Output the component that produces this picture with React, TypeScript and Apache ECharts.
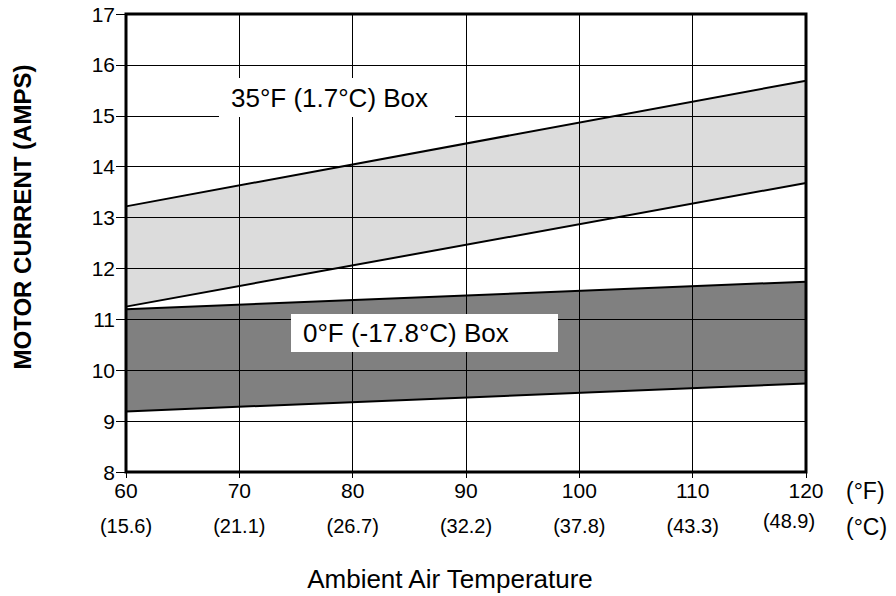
import React, { useEffect, useRef } from "react";
import * as echarts from "echarts";

const FONT = '"Liberation Sans", Arial, Helvetica, sans-serif';

// Ambient temperature (°F) at the ends of each straight line
const tempF = [60, 120];
// 35°F (1.7°C) box band
const box35Upper = [13.22, 15.69];
const box35Lower = [11.25, 13.68];
// 0°F (-17.8°C) box band
const box0Upper = [11.2, 11.74];
const box0Lower = [9.19, 9.74];

// X tick labels
const xTicksF = [60, 70, 80, 90, 100, 110, 120];
const xTicksC = ["(15.6)", "(21.1)", "(26.7)", "(32.2)", "(37.8)", "(43.3)", "(48.9)"];

const bands = [
  { upper: box35Upper, lower: box35Lower, color: "#dcdcdc" },
  { upper: box0Upper, lower: box0Lower, color: "#808080" },
];
const lines = [box35Upper, box35Lower, box0Upper, box0Lower];

export default function App() {
  const ref = useRef<HTMLDivElement>(null);
  useEffect(() => {
    if (!ref.current) return;
    const chart = echarts.init(ref.current, null, { renderer: "svg" });
    const option: any = {
      animation: false,
      backgroundColor: "#fff",
      textStyle: { fontFamily: FONT, color: "#000" },
      grid: {
        left: 126,
        right: 90,
        top: 14,
        bottom: 124,
        show: true,
        z: 2,
        borderColor: "#000",
        borderWidth: 3,
        backgroundColor: "transparent",
      },
      xAxis: {
        type: "value",
        min: 60,
        max: 120,
        interval: 10,
        z: 2,
        axisLine: { show: false },
        axisTick: { show: true, length: 6, lineStyle: { color: "#000", width: 1 } },
        splitLine: { show: true, lineStyle: { color: "#000", width: 1 } },
        axisLabel: {
          margin: 0,
          color: "#000",
          formatter: (v: number) => {
            const i = xTicksF.indexOf(v);
            const c = xTicksC[i] ?? "";
            const style = i === xTicksF.length - 1 ? "cl" : "c";
            return `{f|${v}}\n{${style}|${c}}`;
          },
          rich: {
            f: { fontSize: 21, lineHeight: 36, fontFamily: FONT, color: "#000" },
            c: { fontSize: 20, lineHeight: 36, fontFamily: FONT, color: "#000" },
            cl: {
              fontSize: 20,
              lineHeight: 36,
              fontFamily: FONT,
              color: "#000",
              padding: [0, 34, 10, 0],
            },
          },
        },
      },
      yAxis: {
        type: "value",
        min: 8,
        max: 17,
        interval: 1,
        z: 2,
        axisLine: { show: false },
        axisTick: { show: true, length: 10, lineStyle: { color: "#000", width: 1 } },
        splitLine: { show: true, lineStyle: { color: "#000", width: 1 } },
        axisLabel: { margin: 11, fontSize: 21, color: "#000", fontFamily: FONT },
      },
      series: [
        {
          type: "custom",
          coordinateSystem: "cartesian2d",
          z: 1,
          silent: true,
          data: bands.map((b) => [tempF[0], b.lower[0]]),
          renderItem: (params: any, api: any) => {
            const b = bands[params.dataIndex];
            const pts: number[][] = [];
            for (let k = 0; k < tempF.length; k++) pts.push(api.coord([tempF[k], b.upper[k]]));
            for (let k = tempF.length - 1; k >= 0; k--) pts.push(api.coord([tempF[k], b.lower[k]]));
            return {
              type: "polygon",
              shape: { points: pts },
              style: { fill: b.color, stroke: null },
            };
          },
        },
        ...lines.map((arr) => ({
          type: "line",
          z: 3,
          silent: true,
          symbol: "none",
          showSymbol: false,
          lineStyle: { color: "#000", width: 2 },
          data: tempF.map((t, k) => [t, arr[k]]),
        })),
      ],
      graphic: [
        {
          type: "rect",
          z: 10,
          shape: { x: 219, y: 78, width: 236, height: 39 },
          style: { fill: "#fff" },
        },
        {
          type: "text",
          z: 11,
          x: 231,
          y: 97.5,
          style: {
            text: "35°F (1.7°C) Box",
            font: `26px ${FONT}`,
            fill: "#000",
            textAlign: "left",
            textVerticalAlign: "middle",
          },
        },
        {
          type: "rect",
          z: 10,
          shape: { x: 291, y: 314, width: 267, height: 38 },
          style: { fill: "#fff" },
        },
        {
          type: "text",
          z: 11,
          x: 303,
          y: 333,
          style: {
            text: "0°F (-17.8°C) Box",
            font: `26px ${FONT}`,
            fill: "#000",
            textAlign: "left",
            textVerticalAlign: "middle",
          },
        },
        {
          type: "text",
          z: 11,
          x: 22,
          y: 217,
          rotation: Math.PI / 2,
          style: {
            text: "MOTOR CURRENT (AMPS)",
            font: `bold 24px ${FONT}`,
            fill: "#000",
            textAlign: "center",
            textVerticalAlign: "middle",
          },
        },
        {
          type: "text",
          z: 11,
          x: 450,
          y: 579,
          style: {
            text: "Ambient Air Temperature",
            font: `26px ${FONT}`,
            fill: "#000",
            textAlign: "center",
            textVerticalAlign: "middle",
          },
        },
        {
          type: "text",
          z: 11,
          x: 846,
          y: 491,
          style: {
            text: "(°F)",
            font: `23px ${FONT}`,
            fill: "#000",
            textAlign: "left",
            textVerticalAlign: "middle",
          },
        },
        {
          type: "text",
          z: 11,
          x: 846,
          y: 527,
          style: {
            text: "(°C)",
            font: `23px ${FONT}`,
            fill: "#000",
            textAlign: "left",
            textVerticalAlign: "middle",
          },
        },
      ],
    };
    chart.setOption(option);
    return () => chart.dispose();
  }, []);
  return (
    <div
      ref={ref}
      style={{ position: "absolute", left: 0, top: 0, width: 896, height: 596 }}
    />
  );
}
